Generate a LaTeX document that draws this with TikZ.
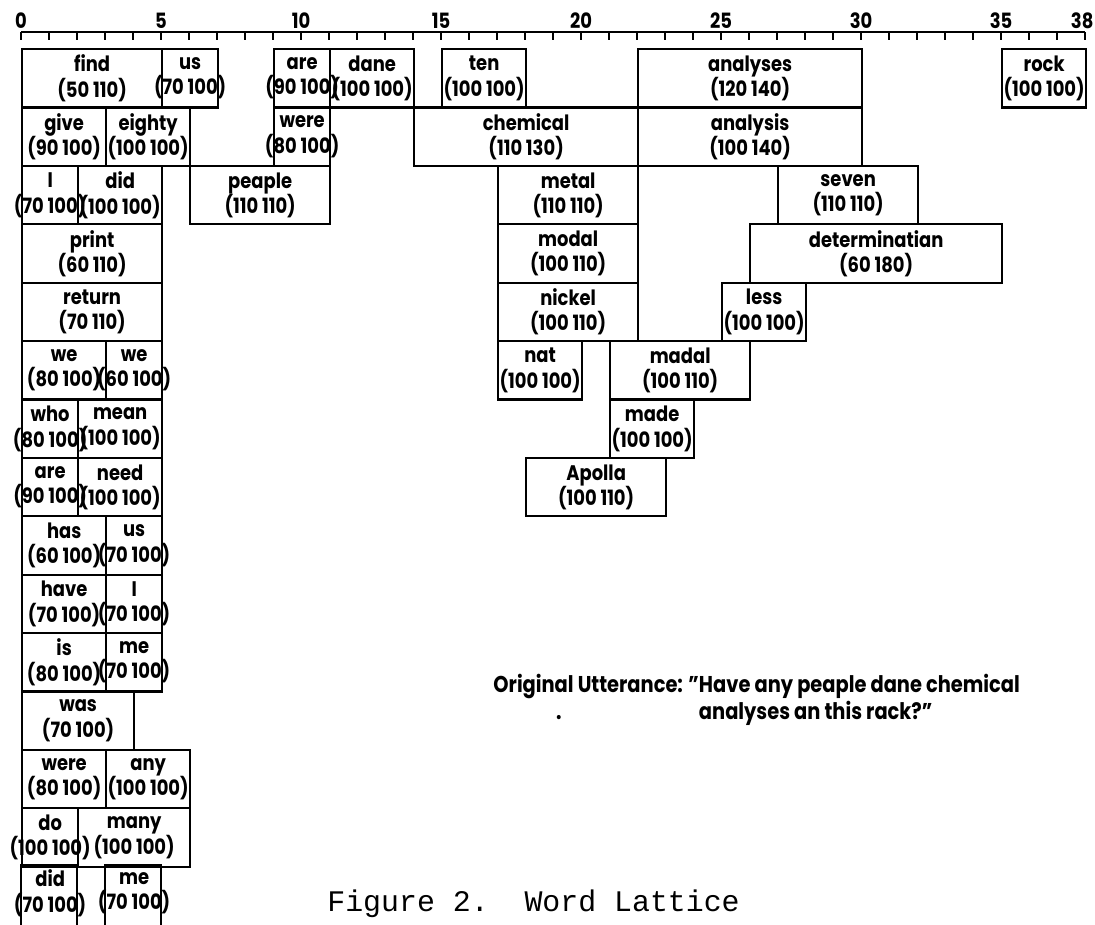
\documentclass[tikz,border=0pt]{standalone}
\usepackage{fontspec}
\setsansfont{Poppins}[FakeStretch=0.85]
\setmonofont{Liberation Mono}
\newcommand{\wl}[2]{\makebox[0pt]{#1}\\\makebox[0pt]{(#2)}}
\begin{document}
\begin{tikzpicture}[x=0.56cm, y=-1.168cm,
        wbox/.style={draw, line width=1.3pt, anchor=north west, inner sep=0pt,
            minimum height=1.168cm, align=center,
            font=\sffamily\bfseries\fontsize{12}{14.5}\selectfont},
        wd/.style={minimum width=#1*0.56cm},
        tick/.style={font=\sffamily\bfseries\fontsize{12}{14}\selectfont},
        utt/.style={font=\sffamily\bfseries\fontsize{13}{16}\selectfont, inner sep=0pt, anchor=base west}]
                \useasboundingbox (-0.75,-0.822) rectangle (38.357,15.0);
                \draw [line width=1.3pt] (0,-0.274) -- (38,-0.274);
                \foreach \i in {0,...,38}
                    \draw [line width=1.2pt] (\i,-0.274) -- (\i,-0.137);
                \foreach \v in {0,5,...,35}
                    \node [tick] (l\v) at (\v,-0.46) {\v};
                \node [tick] (l38) at (37.9,-0.46) {38};
                \node [wbox, wd=5] (find) at (0,0) {\wl{find}{50 110}};
                \node [wbox, wd=2] (us1) at (5,0) {\wl{us}{70 100}};
                \node [wbox, wd=2] (are1) at (9,0) {\wl{are}{90 100}};
                \node [wbox, wd=3] (dane) at (11,0) {\wl{dane}{100 100}};
                \node [wbox, wd=3] (ten) at (15,0) {\wl{ten}{100 100}};
                \node [wbox, wd=8] (analyses) at (22,0) {\wl{analyses}{120 140}};
                \node [wbox, wd=3] (rock) at (35,0) {\wl{rock}{100 100}};
                \node [wbox, wd=3] (give) at (0,1) {\wl{give}{90 100}};
                \node [wbox, wd=3] (eighty) at (3,1) {\wl{eighty}{100 100}};
                \node [wbox, wd=2] (were1) at (9,1) {\wl{were}{80 100}};
                \node [wbox, wd=8] (chemical) at (14,1) {\wl{chemical}{110 130}};
                \node [wbox, wd=8] (analysis) at (22,1) {\wl{analysis}{100 140}};
                \node [wbox, wd=2] (I1) at (0,2) {\wl{I}{70 100}};
                \node [wbox, wd=3] (did1) at (2,2) {\wl{did}{100 100}};
                \node [wbox, wd=5] (peaple) at (6,2) {\wl{peaple}{110 110}};
                \node [wbox, wd=5] (metal) at (17,2) {\wl{metal}{110 110}};
                \node [wbox, wd=5] (seven) at (27,2) {\wl{seven}{110 110}};
                \node [wbox, wd=5] (print) at (0,3) {\wl{print}{60 110}};
                \node [wbox, wd=5] (modal) at (17,3) {\wl{modal}{100 110}};
                \node [wbox, wd=9] (determ) at (26,3) {\wl{determinatian}{60 180}};
                \node [wbox, wd=5] (return) at (0,4) {\wl{return}{70 110}};
                \node [wbox, wd=5] (nickel) at (17,4) {\wl{nickel}{100 110}};
                \node [wbox, wd=3] (less) at (25,4) {\wl{less}{100 100}};
                \node [wbox, wd=3] (we1) at (0,5) {\wl{we}{80 100}};
                \node [wbox, wd=2] (we2) at (3,5) {\wl{we}{60 100}};
                \node [wbox, wd=3] (nat) at (17,5) {\wl{nat}{100 100}};
                \node [wbox, wd=5] (madal) at (21,5) {\wl{madal}{100 110}};
                \node [wbox, wd=2] (who) at (0,6) {\wl{who}{80 100}};
                \node [wbox, wd=3] (mean) at (2,6) {\wl{mean}{100 100}};
                \node [wbox, wd=3] (made) at (21,6) {\wl{made}{100 100}};
                \node [wbox, wd=2] (are2) at (0,7) {\wl{are}{90 100}};
                \node [wbox, wd=3] (need) at (2,7) {\wl{need}{100 100}};
                \node [wbox, wd=5] (apolla) at (18,7) {\wl{Apolla}{100 110}};
                \node [wbox, wd=3] (has) at (0,8) {\wl{has}{60 100}};
                \node [wbox, wd=2] (us2) at (3,8) {\wl{us}{70 100}};
                \node [wbox, wd=3] (have) at (0,9) {\wl{have}{70 100}};
                \node [wbox, wd=2] (I2) at (3,9) {\wl{I}{70 100}};
                \node [wbox, wd=3] (is) at (0,10) {\wl{is}{80 100}};
                \node [wbox, wd=2] (me1) at (3,10) {\wl{me}{70 100}};
                \node [wbox, wd=4] (was) at (0,11) {\wl{was}{70 100}};
                \node [wbox, wd=3] (were2) at (0,12) {\wl{were}{80 100}};
                \node [wbox, wd=3] (any) at (3,12) {\wl{any}{100 100}};
                \node [wbox, wd=2] (do) at (0,13) {\wl{do}{100 100}};
                \node [wbox, wd=4] (many) at (2,13) {\wl{many}{100 100}};
                \node [wbox, wd=2, draw=none, yshift=0.05cm] (did2) at (0,14) {\wl{did}{70 100}};
                \node [wbox, wd=2, draw=none, yshift=0.05cm] (me2) at (3,14) {\wl{me}{70 100}};
                \draw [line width=1.3pt] (0,15.1) -- (0,14) -- (2,14) -- (2,15.1);
                \draw [line width=1.3pt] (3,15.1) -- (3,14) -- (5,14) -- (5,15.1);
                \node [utt] (utt1) at (16.86,11.04) {Original Utterance: "Have any peaple dane chemical};
                \node [utt] (utt2) at ([yshift=-0.54cm]utt1.base west) {\phantom{Original Utterance: "}analyses an this rack?"};
                \node [utt] (dot) at (19.1,11.5) {.};
                \node [font=\ttfamily\fontsize{17}{20}\selectfont, inner sep=0pt, anchor=base west] (cap) at (10.93,14.79) {Figure 2.~~Word Lattice};
            \end{tikzpicture}
\end{document}
